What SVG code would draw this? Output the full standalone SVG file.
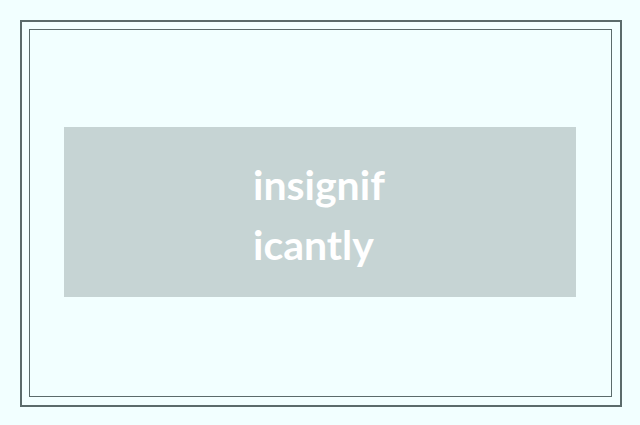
<svg xmlns="http://www.w3.org/2000/svg" width="640" height="425" viewBox="0 0 640 425">
<style>
.lbl{font-family:Lato,"Open Sans",sans-serif;font-weight:700;font-size:41px;fill:#ffffff}
</style>
<rect x="0" y="0" width="640" height="425" fill="#f2ffff"/>
<g id="frame">
<rect x="21" y="21" width="600" height="385" fill="none" stroke="#5b6b6b" stroke-width="2"/>
<rect x="29.5" y="29.5" width="582" height="367" fill="none" stroke="#5b6b6b" stroke-width="1"/>
</g>
<g id="node1">
<rect x="64" y="127" width="512" height="170" fill="#c6d4d4"/>
<text class="lbl" x="253" y="199.5">insignif</text>
<text class="lbl" x="253" y="259.5">icantly</text>
</g>
<g id="connectors"/>
</svg>
